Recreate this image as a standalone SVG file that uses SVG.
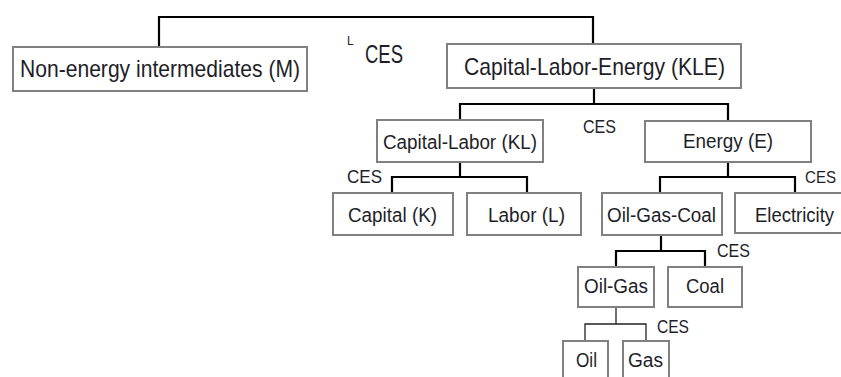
<svg xmlns="http://www.w3.org/2000/svg" width="841" height="377" viewBox="0 0 841 377">
<style>
.box{fill:#fff;stroke:#808080;stroke-width:2}
.t{font-family:"Liberation Sans",Arial,sans-serif;fill:#1e1e28}
.c{fill:none;stroke:#000;stroke-width:2.2}
.c1{fill:none;stroke:#222;stroke-width:1.3}
</style>
<rect width="841" height="377" fill="#fff"/>
<g id="connectors">
<path class="c" d="M159,48 V17 H593 V44"/>
<path class="c" d="M594,88 V104 M460,120 V104 H728 V121"/>
<path class="c" d="M460,162 V177 M392,193 V177 H527 V193"/>
<path class="c" d="M728,162 V177 M660,193 V177 H795 V193"/>
<path class="c" d="M661,235 V251 M616,267 V251 H705 V267"/>
<path class="c1" d="M616,307 V324 M585,341 V324 H646 V341"/>
</g>
<g id="labels">
<text class="t" x="347" y="45" font-size="12">L</text>
<text class="t" x="365" y="63" font-size="25" textLength="38" lengthAdjust="spacingAndGlyphs">CES</text>
<text class="t" x="583" y="133" font-size="19" textLength="33" lengthAdjust="spacingAndGlyphs">CES</text>
<text class="t" x="347" y="183" font-size="19" textLength="35" lengthAdjust="spacingAndGlyphs">CES</text>
<text class="t" x="805" y="183" font-size="17" textLength="31" lengthAdjust="spacingAndGlyphs">CES</text>
<text class="t" x="717" y="257" font-size="19" textLength="33" lengthAdjust="spacingAndGlyphs">CES</text>
<text class="t" x="657" y="333" font-size="19" textLength="32" lengthAdjust="spacingAndGlyphs">CES</text>
</g>
<g id="node-M">
<rect class="box" x="13" y="47" width="294" height="44"/>
<text class="t" x="20" y="77" font-size="24" textLength="280" lengthAdjust="spacingAndGlyphs">Non-energy intermediates (M)</text>
</g>
<g id="node-KLE">
<rect class="box" x="447" y="44" width="294" height="44"/>
<text class="t" x="464" y="75" font-size="24" textLength="261" lengthAdjust="spacingAndGlyphs">Capital-Labor-Energy (KLE)</text>
</g>
<g id="node-KL">
<rect class="box" x="377" y="120" width="166" height="42"/>
<text class="t" x="383" y="149" font-size="20" textLength="154" lengthAdjust="spacingAndGlyphs">Capital-Labor (KL)</text>
</g>
<g id="node-E">
<rect class="box" x="645" y="121" width="166" height="41"/>
<text class="t" x="683" y="148" font-size="20" textLength="90" lengthAdjust="spacingAndGlyphs">Energy (E)</text>
</g>
<g id="node-K">
<rect class="box" x="333" y="193" width="120" height="42"/>
<text class="t" x="348" y="222" font-size="20" textLength="89" lengthAdjust="spacingAndGlyphs">Capital (K)</text>
</g>
<g id="node-L">
<rect class="box" x="467" y="193" width="114" height="42"/>
<text class="t" x="488" y="222" font-size="20" textLength="77" lengthAdjust="spacingAndGlyphs">Labor (L)</text>
</g>
<g id="node-OGC">
<rect class="box" x="602" y="193" width="120" height="42"/>
<text class="t" x="607" y="222" font-size="20" textLength="109" lengthAdjust="spacingAndGlyphs">Oil-Gas-Coal</text>
</g>
<g id="node-Elec">
<rect class="box" x="735" y="193" width="120" height="40"/>
<text class="t" x="755" y="222" font-size="20" textLength="79" lengthAdjust="spacingAndGlyphs">Electricity</text>
</g>
<g id="node-OG">
<rect class="box" x="578" y="267" width="76" height="40"/>
<text class="t" x="584" y="293" font-size="20" textLength="64" lengthAdjust="spacingAndGlyphs">Oil-Gas</text>
</g>
<g id="node-Coal">
<rect class="box" x="668" y="267" width="74" height="40"/>
<text class="t" x="686" y="293" font-size="20" textLength="38" lengthAdjust="spacingAndGlyphs">Coal</text>
</g>
<g id="node-Oil">
<rect class="box" x="563" y="341" width="45" height="50"/>
<text class="t" x="576" y="367" font-size="20" textLength="21" lengthAdjust="spacingAndGlyphs">Oil</text>
</g>
<g id="node-Gas">
<rect class="box" x="623" y="341" width="46" height="50"/>
<text class="t" x="628" y="367" font-size="20" textLength="35" lengthAdjust="spacingAndGlyphs">Gas</text>
</g>
</svg>
